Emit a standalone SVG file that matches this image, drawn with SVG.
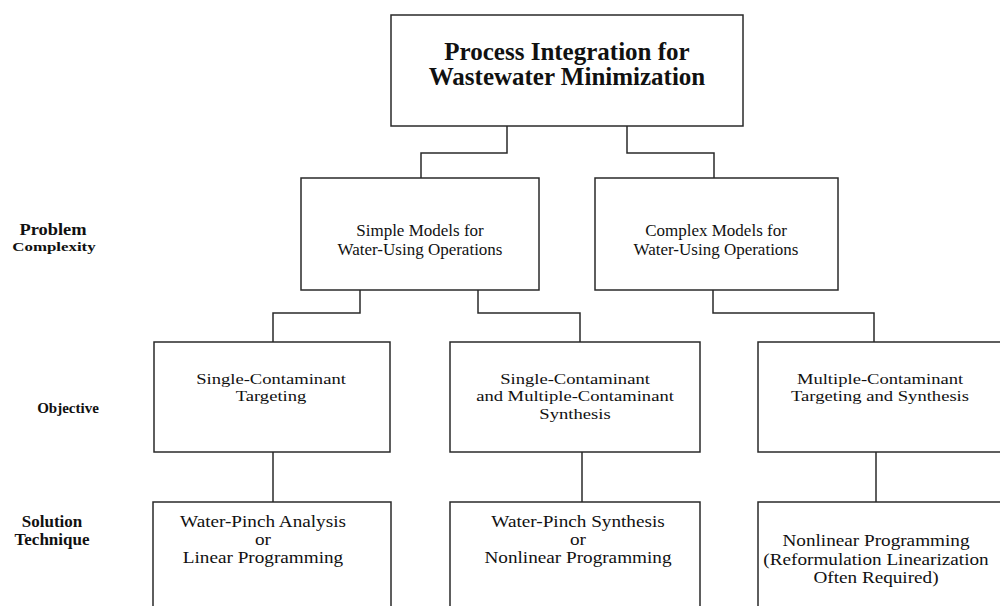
<svg xmlns="http://www.w3.org/2000/svg" width="1000" height="606" viewBox="0 0 1000 606">
  <style>
    .box { fill: #ffffff; stroke: #2a2a2a; stroke-width: 1.5; }
    .wire { fill: none; stroke: #2a2a2a; stroke-width: 1.5; }
    .t { font-family: "Liberation Serif", "Times New Roman", serif; fill: #111; text-anchor: middle; }
    .title { font-size: 25px; font-weight: bold; }
    .n2 { font-size: 17px; }
    .n3 { font-size: 15.5px; }
    .n4 { font-size: 16px; }
    .lab { font-family: "Liberation Serif", "Times New Roman", serif; fill: #111; font-weight: bold; text-anchor: middle; }
  </style>
  <rect width="1000" height="606" fill="#ffffff"/>

  <!-- connectors -->
  <g id="connectors">
    <path class="wire" d="M507,126 V153 H421 V178"/>
    <path class="wire" d="M627,126 V153 H714 V178"/>
    <path class="wire" d="M360,290 V313 H273 V342"/>
    <path class="wire" d="M478,290 V313 H580 V342"/>
    <path class="wire" d="M713,290 V313 H874 V342"/>
    <path class="wire" d="M273,452 V502"/>
    <path class="wire" d="M582,452 V502"/>
    <path class="wire" d="M876,452 V502"/>
  </g>

  <!-- level labels (wide-set lettering via horizontal scale) -->
  <g id="labels">
    <g transform="translate(53,0) scale(1.15,1)">
      <text class="lab" x="0" y="235" font-size="16">Problem</text>
    </g>
    <g transform="translate(54,0) scale(1.35,1)">
      <text class="lab" x="0" y="251" font-size="12.5" fill="#333">Complexity</text>
    </g>
    <text class="lab" x="68" y="413" font-size="15">Objective</text>
    <text class="lab" x="52" y="527" font-size="17">Solution</text>
    <text class="lab" x="52" y="545" font-size="17">Technique</text>
  </g>

  <g id="root">
    <rect class="box" x="391" y="15" width="352" height="111"/>
    <text class="t title" x="567" y="60">Process Integration for</text>
    <text class="t title" x="567" y="85">Wastewater Minimization</text>
  </g>

  <g id="simple-models">
    <rect class="box" x="301" y="178" width="238" height="112"/>
    <text class="t n2" x="420" y="236">Simple Models for</text>
    <text class="t n2" x="420" y="255">Water-Using Operations</text>
  </g>

  <g id="complex-models">
    <rect class="box" x="595" y="178" width="243" height="112"/>
    <text class="t n2" x="716" y="236">Complex Models for</text>
    <text class="t n2" x="716" y="255">Water-Using Operations</text>
  </g>

  <g id="single-targeting">
    <rect class="box" x="154" y="342" width="236" height="110"/>
    <g transform="translate(271,0) scale(1.2,1)">
      <text class="t n3" x="0" y="384">Single-Contaminant</text>
      <text class="t n3" x="0" y="401.5">Targeting</text>
    </g>
  </g>

  <g id="single-multiple-synthesis">
    <rect class="box" x="450" y="342" width="250" height="110"/>
    <g transform="translate(575,0) scale(1.2,1)">
      <text class="t n3" x="0" y="384">Single-Contaminant</text>
      <text class="t n3" x="0" y="401.5">and Multiple-Contaminant</text>
      <text class="t n3" x="0" y="419">Synthesis</text>
    </g>
  </g>

  <g id="multiple-targeting-synthesis">
    <rect class="box" x="758" y="342" width="260" height="110"/>
    <g transform="translate(880,0) scale(1.2,1)">
      <text class="t n3" x="0" y="384">Multiple-Contaminant</text>
      <text class="t n3" x="0" y="401.5">Targeting and Synthesis</text>
    </g>
  </g>

  <g id="pinch-analysis">
    <rect class="box" x="153" y="502" width="238" height="120"/>
    <g transform="translate(263,0) scale(1.2,1)">
      <text class="t n4" x="0" y="527">Water-Pinch Analysis</text>
      <text class="t n4" x="0" y="545">or</text>
      <text class="t n4" x="0" y="563">Linear Programming</text>
    </g>
  </g>

  <g id="pinch-synthesis">
    <rect class="box" x="450" y="502" width="250" height="120"/>
    <g transform="translate(578,0) scale(1.2,1)">
      <text class="t n4" x="0" y="527">Water-Pinch Synthesis</text>
      <text class="t n4" x="0" y="545">or</text>
      <text class="t n4" x="0" y="563">Nonlinear Programming</text>
    </g>
  </g>

  <g id="nonlinear-programming">
    <rect class="box" x="758" y="502" width="260" height="120"/>
    <g transform="translate(876,0) scale(1.2,1)">
      <text class="t n4" x="0" y="546">Nonlinear Programming</text>
      <text class="t n4" x="0" y="565">(Reformulation Linearization</text>
      <text class="t n4" x="0" y="583">Often Required)</text>
    </g>
  </g>
</svg>
